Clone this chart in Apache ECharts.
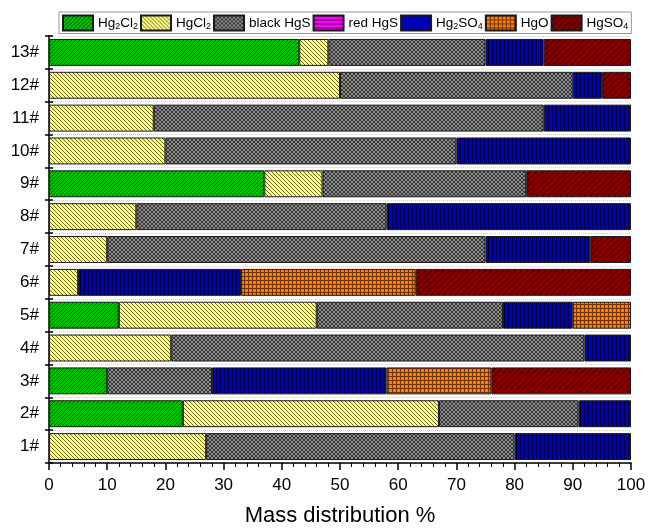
<!DOCTYPE html>
<html><head><meta charset="utf-8">
<script src="https://cdn.jsdelivr.net/npm/echarts@6/dist/echarts.min.js"></script>
<style>html,body{margin:0;padding:0;background:#fff}#c{width:648px;height:530px}</style>
</head><body><div id="c"></div>
<script>
const categories = ['1#','2#','3#','4#','5#','6#','7#','8#','9#','10#','11#','12#','13#'];
const seriesNames = ['Hg2Cl2','HgCl2','black HgS','red HgS','Hg2SO4','HgO','HgSO4'];
const hg2cl2 = [0,23,10,0,12,0,0,0,37,0,0,0,43];
const hgcl2  = [27,44,0,21,34,5,10,15,10,20,18,50,5];
const blackHgS = [53,24,18,71,32,0,65,43,35,50,67,40,27];
const redHgS = [0,0,0,0,0,0,0,0,0,0,0,0,0];
const hg2so4 = [20,9,30,8,12,28,18,42,0,30,15,5,10];
const hgo    = [0,0,18,0,10,30,0,0,0,0,0,0,0];
const hgso4  = [0,0,24,0,0,37,7,0,18,0,0,5,15];
const xTicks = [0,10,20,30,40,50,60,70,80,90,100];

function tile(n, bg, fg, fn){
  const c = document.createElement('canvas'); c.width = n; c.height = n;
  const g = c.getContext('2d'); g.fillStyle = bg; g.fillRect(0,0,n,n);
  g.fillStyle = fg;
  for (let y=0;y<n;y++) for (let x=0;x<n;x++) if (fn(x,y,n)) g.fillRect(x,y,1,1);
  return {image: c, repeat: 'repeat'};
}
const patterns = [
  tile(4,'#00c000','#105010',(x,y,n)=>x+y===n-1),
  tile(4,'#ffff80','#6b6b30',(x,y,n)=>x===y),
  tile(4,'#8c8c8c','#383838',(x,y,n)=>(x===y)||(x+y===n-1)),
  tile(4,'#ff00ff','#400040',(x,y,n)=>y===0),
  tile(4,'#0000c0','#000030',(x,y,n)=>x===0),
  tile(4,'#ff8000','#703000',(x,y,n)=>x===0||y===0),
  tile(6,'#800000','#200000',(x,y,n)=>x+y===n-1)
];
const dataSets = [hg2cl2,hgcl2,blackHgS,redHgS,hg2so4,hgo,hgso4];
const legendLabels = {
  'Hg2Cl2':'Hg{s|2}Cl{s|2}','HgCl2':'HgCl{s|2}','black HgS':'black HgS','red HgS':'red HgS',
  'Hg2SO4':'Hg{s|2}SO{s|4}','HgO':'HgO','HgSO4':'HgSO{s|4}'
};
const font = 'Liberation Sans, Arial, sans-serif';
const chart = echarts.init(document.getElementById('c'));
chart.setOption({
  animation:false,
  backgroundColor:'#fff',
  legend:{
    left:59, top:12, itemWidth:30, itemHeight:15, itemGap:2,
    borderColor:'#999', borderWidth:1, padding:[2,3,2,3], icon:'rect',
    formatter: n => legendLabels[n],
    textStyle:{fontFamily:font, fontSize:13.5, color:'#000', lineHeight:16,
      rich:{s:{fontFamily:font,fontSize:9,color:'#000',verticalAlign:'bottom',lineHeight:9,padding:[8,0,0,0]}}},
    data: seriesNames
  },
  grid:{left:49, right:17, top:36, bottom:67, outerBoundsMode:'none', containLabel:false},
  xAxis:{
    type:'value', min:0, max:100, interval:10,
    name:'Mass distribution %', nameLocation:'middle', nameGap:42,
    nameTextStyle:{fontFamily:font, fontSize:22, color:'#000'},
    axisLine:{show:true, lineStyle:{color:'#000', width:1.5}},
    axisTick:{show:true, length:7, lineStyle:{color:'#000', width:1.5}},
    minorTick:{show:true, splitNumber:5, length:4, lineStyle:{color:'#000', width:1}},
    axisLabel:{fontFamily:font, fontSize:17, color:'#000', margin:14,
      formatter: v => xTicks.indexOf(v) >= 0 ? String(v) : ''},
    splitLine:{show:false}
  },
  yAxis:[{
    type:'category', data:categories,
    axisLine:{show:true, lineStyle:{color:'#000', width:1.5}},
    axisTick:{show:true, length:4, lineStyle:{color:'#000', width:1.5}},
    axisLabel:{fontFamily:font, fontSize:17, color:'#000', margin:10},
    splitLine:{show:true, lineStyle:{color:'#d0d0d0', type:'dotted', width:1}}
  },{
    type:'category', data:categories, position:'left',
    axisLine:{show:false},
    axisTick:{show:true, inside:true, length:4, lineStyle:{color:'#000', width:1.5}},
    axisLabel:{show:false}, splitLine:{show:false}
  }],
  series: seriesNames.map((name,i)=>({
    name, type:'bar', stack:'total', yAxisIndex:0, barCategoryGap:'18%',
    data: dataSets[i].map(v => v === 0 ? '-' : v),
    itemStyle:{color: patterns[i], borderColor:'#1a1a1a', borderWidth:1}
  }))
});
</script></body></html>
